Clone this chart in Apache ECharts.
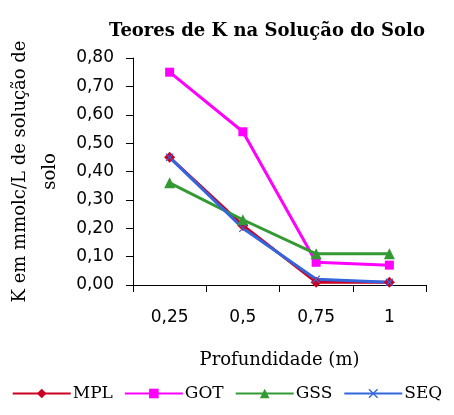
<!DOCTYPE html>
<html>
<head>
<meta charset="utf-8">
<script src="https://cdn.jsdelivr.net/npm/echarts@6/dist/echarts.min.js"></script>
<style>
  html, body { margin: 0; padding: 0; background: #fff; }
  #chart { width: 454px; height: 415px; }
</style>
</head>
<body>
<div id="chart"></div>
<script>
// dados
var profundidades = ['0,25', '0,5', '0,75', '1'];
var mpl = [0.45, 0.21, 0.01, 0.01];
var got = [0.75, 0.54, 0.08, 0.07];
var gss = [0.36, 0.23, 0.11, 0.11];
var seq = [0.45, 0.20, 0.02, 0.01];

var xMark = 'path://M0,1L1,0L5,4L9,0L10,1L6,5L10,9L9,10L5,6L1,10L0,9L4,5Z';

function serie(nome, dados, cor, simbolo, tam) {
    return {
        name: nome,
        type: 'line',
        data: dados,
        symbol: simbolo,
        symbolSize: tam,
        showAllSymbol: true,
        lineStyle: { color: cor, width: 3 },
        itemStyle: { color: cor, borderWidth: 0 }
    };
}

var option = {
    backgroundColor: '#fff',
    animation: false,
    title: {
        text: 'Teores de K na Solução do Solo',
        left: 262,
        textAlign: 'center',
        top: 17,
        textStyle: { fontFamily: 'DejaVu Serif', fontWeight: 'bold', fontSize: 18, color: '#000' }
    },
    legend: {
        bottom: 8,
        left: 'center',
        itemWidth: 58,
        itemHeight: 12,
        itemGap: 11,
        textStyle: { fontFamily: 'DejaVu Serif', fontSize: 17, color: '#000', padding: [0, 0, 0, -3] },
        data: ['MPL', 'GOT', 'GSS', 'SEQ']
    },
    grid: { left: 133, right: 28, top: 58, bottom: 130, outerBoundsMode: 'none', containLabel: false },
    xAxis: {
        type: 'category',
        data: profundidades,
        boundaryGap: true,
        name: 'Profundidade (m)',
        nameLocation: 'middle',
        nameGap: 66,
        nameTextStyle: { fontFamily: 'DejaVu Serif', fontSize: 18, color: '#000' },
        axisLine: { lineStyle: { color: '#000', width: 1 } },
        axisTick: { show: true, length: 7, lineStyle: { color: '#000' } },
        axisLabel: { fontFamily: 'DejaVu Sans', fontSize: 17, color: '#000', margin: 24 },
        splitLine: { show: false }
    },
    yAxis: {
        type: 'value',
        min: 0,
        max: 0.8,
        interval: 0.1,
        name: 'K em mmolc/L de solução de\nsolo',
        nameLocation: 'middle',
        nameGap: 65,
        nameTextStyle: { fontFamily: 'DejaVu Serif', fontSize: 18, color: '#000', lineHeight: 30 },
        axisLine: { show: true, lineStyle: { color: '#000', width: 1 } },
        axisTick: { show: true, length: 7, lineStyle: { color: '#000' } },
        axisLabel: {
            fontFamily: 'DejaVu Sans', fontSize: 17, color: '#000', margin: 19,
            formatter: function (v) { return v.toFixed(2).replace('.', ','); }
        },
        splitLine: { show: false }
    },
    series: [
        serie('MPL', mpl, '#cc0022', 'diamond', 11),
        serie('GOT', got, '#ff00ff', 'rect', 9),
        serie('GSS', gss, '#339933', 'triangle', 11),
        serie('SEQ', seq, '#3366dd', xMark, 8)
    ]
};

var chart = echarts.init(document.getElementById('chart'));
chart.setOption(option);
</script>
</body>
</html>
